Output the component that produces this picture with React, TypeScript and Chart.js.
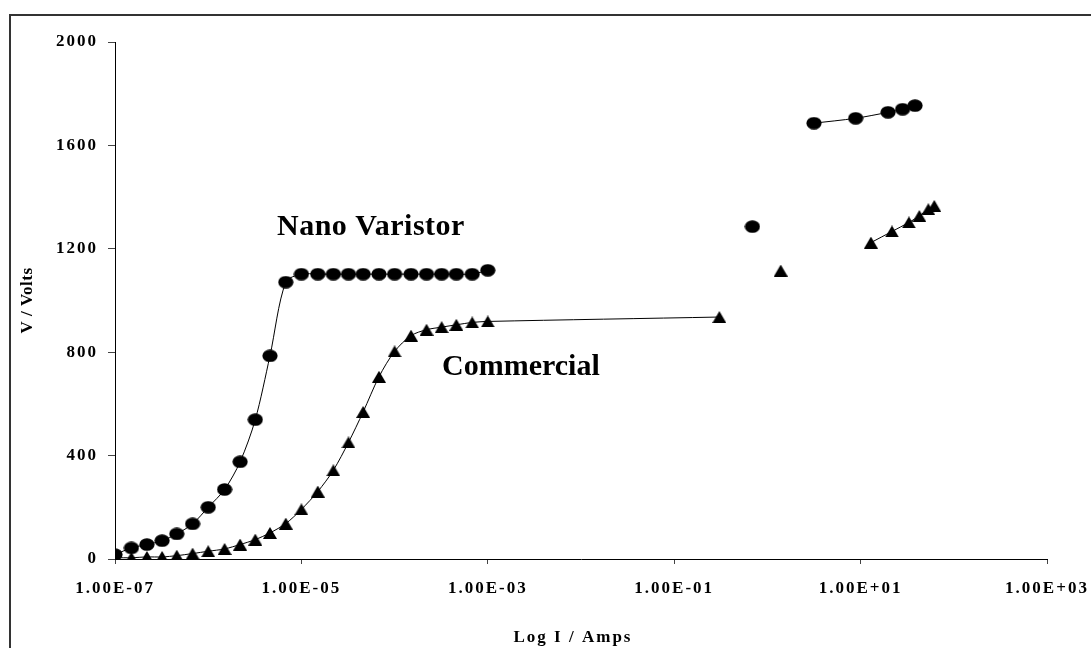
import React, { useEffect, useRef } from "react";
import { Chart, registerables } from "chart.js";

Chart.register(...registerables);

// ---- Data ----
const NANO_LOW_I = [1.0e-7, 1.5e-7, 2.2e-7, 3.2e-7, 4.6e-7, 6.8e-7, 1.0e-6, 1.5e-6, 2.2e-6, 3.2e-6, 4.6e-6, 6.8e-6, 1.0e-5, 1.5e-5, 2.2e-5, 3.2e-5, 4.6e-5, 6.8e-5, 1.0e-4, 1.5e-4, 2.2e-4, 3.2e-4, 4.6e-4, 6.8e-4, 1.0e-3];
const NANO_LOW_V = [17, 43, 56, 71, 97, 136, 200, 269, 376, 539, 786, 1071, 1102, 1102, 1102, 1102, 1102, 1102, 1102, 1102, 1102, 1102, 1102, 1102, 1117];
const NANO_MID_I = [0.69];
const NANO_MID_V = [1286];
const NANO_HIGH_I = [3.16, 8.85, 19.7, 28.2, 38.4];
const NANO_HIGH_V = [1686, 1705, 1728, 1740, 1754];

const COM_LOW_I = [1.0e-7, 1.5e-7, 2.2e-7, 3.2e-7, 4.6e-7, 6.8e-7, 1.0e-6, 1.5e-6, 2.2e-6, 3.2e-6, 4.6e-6, 6.8e-6, 1.0e-5, 1.5e-5, 2.2e-5, 3.2e-5, 4.6e-5, 6.8e-5, 1.0e-4, 1.5e-4, 2.2e-4, 3.2e-4, 4.6e-4, 6.8e-4, 1.0e-3, 0.305];
const COM_LOW_V = [5, 5, 8, 8, 13, 21, 30, 39, 56, 75, 101, 137, 192, 261, 343, 451, 569, 705, 803, 864, 887, 897, 906, 915, 919, 936];
const COM_MID_I = [1.39];
const COM_MID_V = [1116];
const COM_HIGH_I = [12.9, 21.7, 33.0, 42.7, 53.3, 61.7];
const COM_HIGH_V = [1224, 1267, 1302, 1327, 1353, 1366];

const X_TICKS = [1e-7, 1e-5, 1e-3, 1e-1, 1e1, 1e3];
const Y_MIN = 0;
const Y_MAX = 2000;
const Y_STEP = 400;

const LABEL_NANO = "Nano Varistor";
const LABEL_COM = "Commercial";
const X_TITLE = "Log I / Amps";
const Y_TITLE = "V / Volts";

const FONT = "'Liberation Serif', 'Times New Roman', serif";
const BASE_SPACING = "2px";

function pts(xs: number[], ys: number[]) {
  return xs.map((x, i) => ({ x, y: ys[i] }));
}

function fmtExp(v: number) {
  const exp = Math.round(Math.log10(v));
  const mant = v / Math.pow(10, exp);
  const sign = exp < 0 ? "-" : "+";
  const e = Math.abs(exp).toString().padStart(2, "0");
  return mant.toFixed(2) + "E" + sign + e;
}

function makeEllipse() {
  const c = document.createElement("canvas");
  c.width = 16;
  c.height = 13;
  const g = c.getContext("2d")!;
  g.fillStyle = "#000";
  g.beginPath();
  g.ellipse(8, 6.5, 7.6, 6.3, 0, 0, Math.PI * 2);
  g.fill();
  return c;
}

function makeTriangle() {
  const c = document.createElement("canvas");
  c.width = 14;
  c.height = 12;
  const g = c.getContext("2d")!;
  g.fillStyle = "#000";
  g.beginPath();
  g.moveTo(7, 0);
  g.lineTo(14, 12);
  g.lineTo(0, 12);
  g.closePath();
  g.fill();
  return c;
}

export default function App() {
  const ref = useRef<HTMLCanvasElement | null>(null);

  useEffect(() => {
    document.body.style.margin = "0";
    const canvas = ref.current!;
    const ellipse = makeEllipse();
    const tri = makeTriangle();

    const spacingPlugin = {
      id: "spacing",
      beforeLayout(chart: any) {
        chart.ctx.letterSpacing = BASE_SPACING;
      },
      beforeDraw(chart: any) {
        const ctx = chart.ctx;
        ctx.letterSpacing = BASE_SPACING;
        ctx.save();
        ctx.fillStyle = "#fff";
        ctx.fillRect(0, 0, chart.width, chart.height);
        ctx.strokeStyle = "#333";
        ctx.lineWidth = 2;
        ctx.beginPath();
        ctx.moveTo(10, chart.height + 5);
        ctx.lineTo(10, 15);
        ctx.lineTo(chart.width + 5, 15);
        ctx.stroke();
        ctx.restore();
      },
      afterDraw(chart: any) {
        const ctx = chart.ctx;
        ctx.save();
        ctx.fillStyle = "#000";
        ctx.textBaseline = "alphabetic";
        ctx.textAlign = "left";
        ctx.letterSpacing = "0.5px";
        ctx.font = `bold 30px ${FONT}`;
        ctx.fillText(LABEL_NANO, 277, 235);
        ctx.letterSpacing = "0px";
        ctx.font = `bold 30px ${FONT}`;
        ctx.fillText(LABEL_COM, 442, 375);
        ctx.restore();
        ctx.letterSpacing = BASE_SPACING;
      },
    };

    const lineDs = (data: any[], style: any, show: boolean) => ({
      data,
      showLine: show,
      borderColor: "#000",
      borderWidth: 1,
      tension: 0.3,
      pointStyle: style,
      pointRadius: 7,
      pointHoverRadius: 7,
      backgroundColor: "#000",
    });

    const chart = new Chart(canvas, {
      type: "scatter",
      data: {
        datasets: [
          lineDs(pts(NANO_LOW_I, NANO_LOW_V), ellipse, true),
          lineDs(pts(NANO_MID_I, NANO_MID_V), ellipse, false),
          lineDs(pts(NANO_HIGH_I, NANO_HIGH_V), ellipse, true),
          lineDs(pts(COM_LOW_I, COM_LOW_V), tri, true),
          lineDs(pts(COM_MID_I, COM_MID_V), tri, false),
          lineDs(pts(COM_HIGH_I, COM_HIGH_V), tri, true),
        ] as any,
      },
      options: {
        animation: false,
        responsive: false,
        maintainAspectRatio: false,
        events: [],
        layout: { padding: { top: 42, right: 44, left: 0, bottom: 0 } },
        plugins: {
          legend: { display: false },
          tooltip: { enabled: false },
        },
        scales: {
          x: {
            type: "logarithmic",
            min: X_TICKS[0],
            max: X_TICKS[X_TICKS.length - 1],
            position: "bottom",
            afterBuildTicks: (s: any) => {
              s.ticks = X_TICKS.map((v) => ({ value: v }));
            },
            afterFit: (s: any) => {
              s.height = 89;
              s.paddingLeft = 0;
              s.paddingRight = 0;
              if (!s.__wrapped) {
                s.__wrapped = true;
                const orig = s.drawTitle;
                s.drawTitle = function (...args: any[]) {
                  this.ctx.save();
                  this.ctx.translate(-8, 0);
                  orig.apply(this, args);
                  this.ctx.restore();
                  this.ctx.letterSpacing = BASE_SPACING;
                };
              }
            },
            ticks: {
              autoSkip: false,
              maxRotation: 0,
              minRotation: 0,
              padding: 14,
              color: "#000",
              font: { family: FONT, size: 17, weight: "bold" },
              callback: (v: any) => fmtExp(Number(v)),
            },
            grid: {
              drawOnChartArea: false,
              drawTicks: true,
              tickLength: 5,
              color: "#444",
            },
            border: { display: true, color: "#000", width: 1 },
            title: {
              display: true,
              text: X_TITLE,
              color: "#000",
              font: { family: FONT, size: 17, weight: "bold" },
              padding: { top: 0, bottom: 0 },
            },
          },
          y: {
            type: "linear",
            min: Y_MIN,
            max: Y_MAX,
            afterFit: (s: any) => {
              s.width = 115;
              s.paddingTop = 0;
              s.paddingBottom = 0;
              if (!s.__wrapped) {
                s.__wrapped = true;
                const orig = s.drawTitle;
                s.drawTitle = function (...args: any[]) {
                  this.ctx.letterSpacing = "0.5px";
                  orig.apply(this, args);
                  this.ctx.letterSpacing = BASE_SPACING;
                };
              }
            },
            ticks: {
              stepSize: Y_STEP,
              padding: 10,
              color: "#000",
              font: { family: FONT, size: 17, weight: "bold" },
              callback: (v: any) => String(v),
            },
            grid: {
              drawOnChartArea: false,
              drawTicks: true,
              tickLength: 7,
              color: "#444",
            },
            border: { display: true, color: "#000", width: 1 },
            title: {
              display: true,
              text: Y_TITLE,
              color: "#000",
              font: { family: FONT, size: 17, weight: "bold" },
              padding: { top: 17, bottom: 0 },
            },
          },
        },
      } as any,
      plugins: [spacingPlugin],
    });

    return () => chart.destroy();
  }, []);

  return (
    <canvas
      ref={ref}
      width={1091}
      height={648}
      style={{ display: "block", width: "1091px", height: "648px" }}
    />
  );
}
